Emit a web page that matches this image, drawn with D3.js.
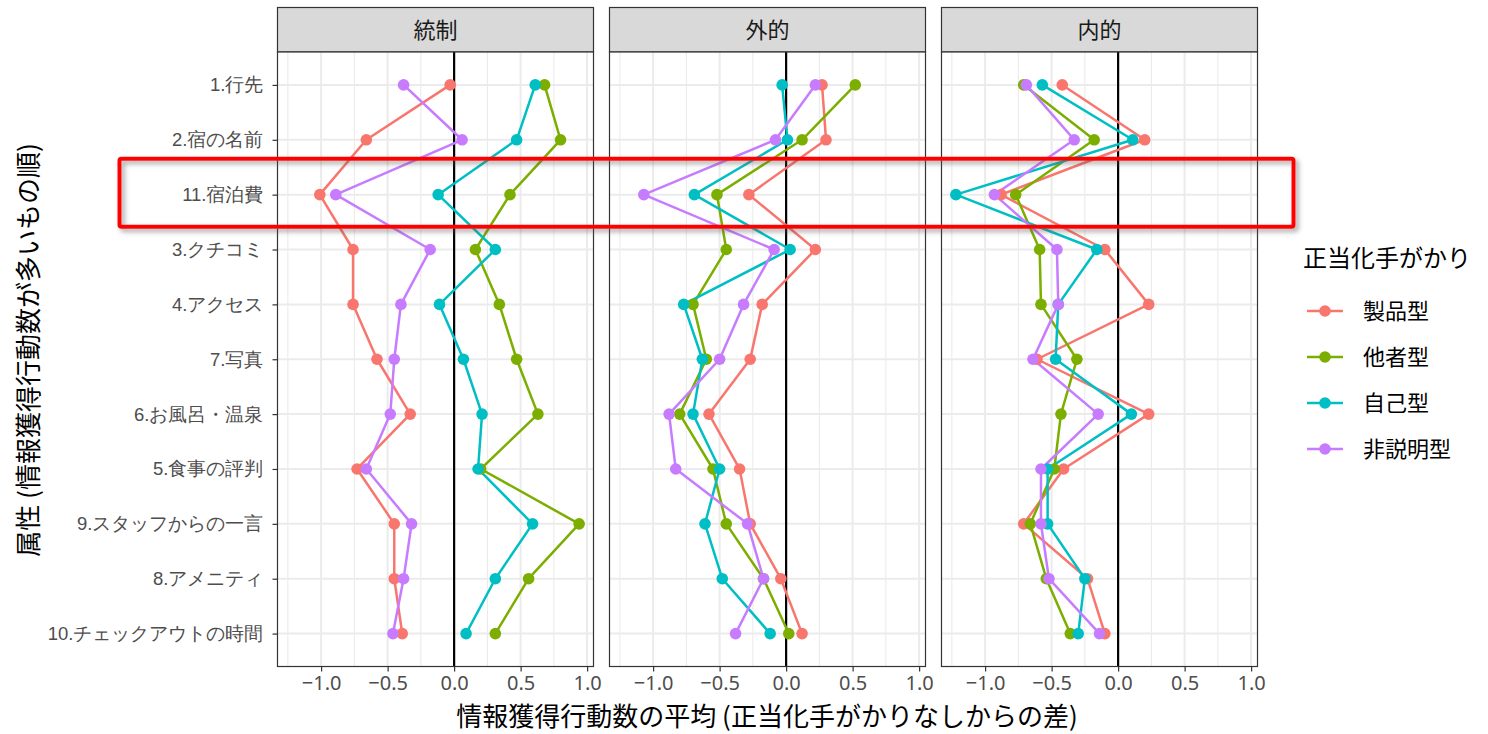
<!DOCTYPE html>
<html>
<head>
<meta charset="utf-8">
<script src="https://cdn.jsdelivr.net/npm/d3@7"></script>
<style>
  html, body { margin: 0; padding: 0; background: #fff; }
  svg { display: block; font-family: "Noto Sans CJK JP", "Noto Sans", sans-serif; }
</style>
</head>
<body>
<svg id="chart" width="1488" height="734"></svg>
<script>
// Attributes, ordered by number of information-seeking actions
const categories = ["1.行先", "2.宿の名前", "11.宿泊費", "3.クチコミ", "4.アクセス", "7.写真",
  "6.お風呂・温泉", "5.食事の評判", "9.スタッフからの一言", "8.アメニティ", "10.チェックアウトの時間"];

const facets = ["統制", "外的", "内的"];
const cueTypes = ["製品型", "他者型", "自己型", "非説明型"];
const cueColors = ["#F8766D", "#7CAE00", "#00BFC4", "#C77CFF"];
const xTicks = [-1.0, -0.5, 0.0, 0.5, 1.0];
const xMinorTicks = [-1.25, -0.75, -0.25, 0.25, 0.75];

// 統制
const controlProduct = [-0.03, -0.66, -1.01, -0.76, -0.76, -0.58, -0.33, -0.73, -0.45, -0.45, -0.39];
const controlOthers  = [0.68, 0.80, 0.42, 0.16, 0.34, 0.47, 0.63, 0.20, 0.94, 0.56, 0.31];
const controlSelf    = [0.61, 0.47, -0.12, 0.31, -0.11, 0.07, 0.21, 0.18, 0.59, 0.31, 0.09];
const controlNone    = [-0.38, 0.06, -0.89, -0.18, -0.40, -0.45, -0.48, -0.66, -0.32, -0.38, -0.46];
// 外的
const externalProduct = [0.27, 0.30, -0.28, 0.22, -0.18, -0.27, -0.58, -0.35, -0.27, -0.04, 0.12];
const externalOthers  = [0.52, 0.12, -0.52, -0.45, -0.70, -0.60, -0.80, -0.55, -0.45, -0.17, 0.02];
const externalSelf    = [-0.03, 0.01, -0.69, 0.03, -0.77, -0.63, -0.70, -0.50, -0.61, -0.48, -0.12];
const externalNone    = [0.22, -0.08, -1.07, -0.09, -0.32, -0.50, -0.88, -0.83, -0.29, -0.17, -0.38];
// 内的
const internalProduct = [-0.42, 0.20, -0.88, -0.10, 0.23, -0.61, 0.23, -0.41, -0.71, -0.23, -0.10];
const internalOthers  = [-0.71, -0.18, -0.77, -0.59, -0.58, -0.31, -0.43, -0.48, -0.66, -0.54, -0.36];
const internalSelf    = [-0.57, 0.11, -1.22, -0.16, -0.45, -0.47, 0.10, -0.53, -0.53, -0.25, -0.30];
const internalNone    = [-0.69, -0.33, -0.93, -0.46, -0.45, -0.64, -0.15, -0.58, -0.58, -0.52, -0.14];

const facetSeries = [
  [controlProduct, controlOthers, controlSelf, controlNone],
  [externalProduct, externalOthers, externalSelf, externalNone],
  [internalProduct, internalOthers, internalSelf, internalNone]
];

const highlightCategory = "11.宿泊費";

// ---- layout ----
const svg = d3.select("#chart");
const panelW = 316, panelGap = 16, panelLeft = 277.5;
const stripTop = 7.5, stripH = 44.5;
const panelTop = stripTop + stripH, panelBottom = 666.5;

// shared x scale with ggplot-style 5% expansion
const allVals = facetSeries.flat(2);
const vMin = d3.min(allVals), vMax = d3.max(allVals);
const pad = (vMax - vMin) * 0.05;
const x = d3.scaleLinear().domain([vMin - pad, vMax + pad]).range([0, panelW]);
const y = d3.scalePoint().domain(categories).range([panelTop, panelBottom]).padding(0.6);

const defs = svg.append("defs");
const shadow = defs.append("filter").attr("id", "shadow")
  .attr("x", "-5%").attr("y", "-30%").attr("width", "110%").attr("height", "160%");
shadow.append("feDropShadow").attr("dx", 3).attr("dy", 3).attr("stdDeviation", 2.5)
  .attr("flood-color", "#555").attr("flood-opacity", 0.55);

const line = d3.line().x(d => x(d.v)).y(d => y(d.c));

facets.forEach((name, fi) => {
  const px = panelLeft + fi * (panelW + panelGap);
  const g = svg.append("g").attr("transform", `translate(${px},0)`);

  // strip
  g.append("rect").attr("x", 0).attr("y", stripTop).attr("width", panelW).attr("height", stripH)
    .attr("fill", "#D9D9D9").attr("stroke", "#333").attr("stroke-width", 1.2);
  g.append("text").attr("x", panelW / 2).attr("y", stripTop + stripH / 2)
    .attr("dy", "0.36em").attr("text-anchor", "middle")
    .attr("font-size", 22).attr("fill", "#1A1A1A").text(name);

  // panel background + grid
  g.append("rect").attr("x", 0).attr("y", panelTop).attr("width", panelW)
    .attr("height", panelBottom - panelTop).attr("fill", "#fff");
  g.selectAll(".minor").data(xMinorTicks).join("line")
    .attr("x1", d => x(d)).attr("x2", d => x(d))
    .attr("y1", panelTop).attr("y2", panelBottom)
    .attr("stroke", "#EBEBEB").attr("stroke-width", 1.1);
  g.selectAll(".majorx").data(xTicks).join("line")
    .attr("x1", d => x(d)).attr("x2", d => x(d))
    .attr("y1", panelTop).attr("y2", panelBottom)
    .attr("stroke", "#EBEBEB").attr("stroke-width", 2);
  g.selectAll(".majory").data(categories).join("line")
    .attr("x1", 0).attr("x2", panelW)
    .attr("y1", d => y(d)).attr("y2", d => y(d))
    .attr("stroke", "#EBEBEB").attr("stroke-width", 2);

  // reference line at zero
  g.append("line").attr("x1", x(0)).attr("x2", x(0))
    .attr("y1", panelTop).attr("y2", panelBottom)
    .attr("stroke", "#000").attr("stroke-width", 2.2);

  // series lines then points
  const series = facetSeries[fi].map((vals, si) => ({
    si, pts: vals.map((v, i) => ({ v, c: categories[i] }))
  }));
  series.forEach(s => {
    g.append("path").attr("d", line(s.pts)).attr("fill", "none")
      .attr("stroke", cueColors[s.si]).attr("stroke-width", 2.5).attr("stroke-linejoin", "round");
  });
  series.forEach(s => {
    g.selectAll(null).data(s.pts).join("circle")
      .attr("cx", d => x(d.v)).attr("cy", d => y(d.c)).attr("r", 5.8)
      .attr("fill", cueColors[s.si]);
  });

  // panel border
  g.append("rect").attr("x", 0).attr("y", panelTop).attr("width", panelW)
    .attr("height", panelBottom - panelTop).attr("fill", "none")
    .attr("stroke", "#333").attr("stroke-width", 1.2);

  // bottom axis
  const xa = g.append("g").attr("transform", `translate(0,${panelBottom})`)
    .call(d3.axisBottom(x).tickValues(xTicks).tickFormat(d3.format(".1f")).tickSizeOuter(0).tickSize(5));
  xa.select(".domain").remove();
  xa.selectAll("line").attr("stroke", "#333").attr("stroke-width", 1.2);
  xa.selectAll("text").attr("font-size", 20).attr("fill", "#4D4D4D")
    .attr("font-family", "'Noto Sans', sans-serif").attr("y", 9).attr("dy", "0.71em");

  // left axis on first panel only
  if (fi === 0) {
    const ya = g.append("g").call(d3.axisLeft(y).tickSizeOuter(0).tickSize(5));
    ya.select(".domain").remove();
    ya.selectAll("line").attr("stroke", "#333").attr("stroke-width", 1.2);
    ya.selectAll("text").attr("font-size", 18.5).attr("fill", "#4D4D4D").attr("x", -14);
  }
});

// axis titles
svg.append("text").attr("x", 767).attr("y", 717).attr("dy", "0.35em")
  .attr("text-anchor", "middle").attr("font-size", 26).attr("fill", "#000")
  .text("情報獲得行動数の平均 (正当化手がかりなしからの差)");
svg.append("text").attr("transform", "translate(29,350) rotate(-90)")
  .attr("dy", "0.35em").attr("text-anchor", "middle").attr("font-size", 26).attr("fill", "#000")
  .text("属性 (情報獲得行動数が多いもの順)");

// legend
const lg = svg.append("g").attr("transform", "translate(1303,0)");
lg.append("text").attr("x", 0).attr("y", 258).attr("dy", "0.36em")
  .attr("font-size", 24).attr("fill", "#000").text("正当化手がかり");
const keyY = d3.scalePoint().domain(cueTypes).range([311, 449]);
cueTypes.forEach((t, i) => {
  const ky = keyY(t);
  lg.append("line").attr("x1", 4).attr("x2", 40).attr("y1", ky).attr("y2", ky)
    .attr("stroke", cueColors[i]).attr("stroke-width", 2.5);
  lg.append("circle").attr("cx", 22).attr("cy", ky).attr("r", 5.8).attr("fill", cueColors[i]);
  lg.append("text").attr("x", 60).attr("y", ky).attr("dy", "0.36em")
    .attr("font-size", 22).attr("fill", "#000").text(t);
});

// highlight box around the price row
const hy = y(highlightCategory);
svg.append("rect")
  .attr("x", 119.5).attr("y", hy - 36).attr("width", 1174).attr("height", 68)
  .attr("rx", 2).attr("fill", "none").attr("stroke", "#FF0000").attr("stroke-width", 4)
  .attr("filter", "url(#shadow)");
</script>
</body>
</html>
